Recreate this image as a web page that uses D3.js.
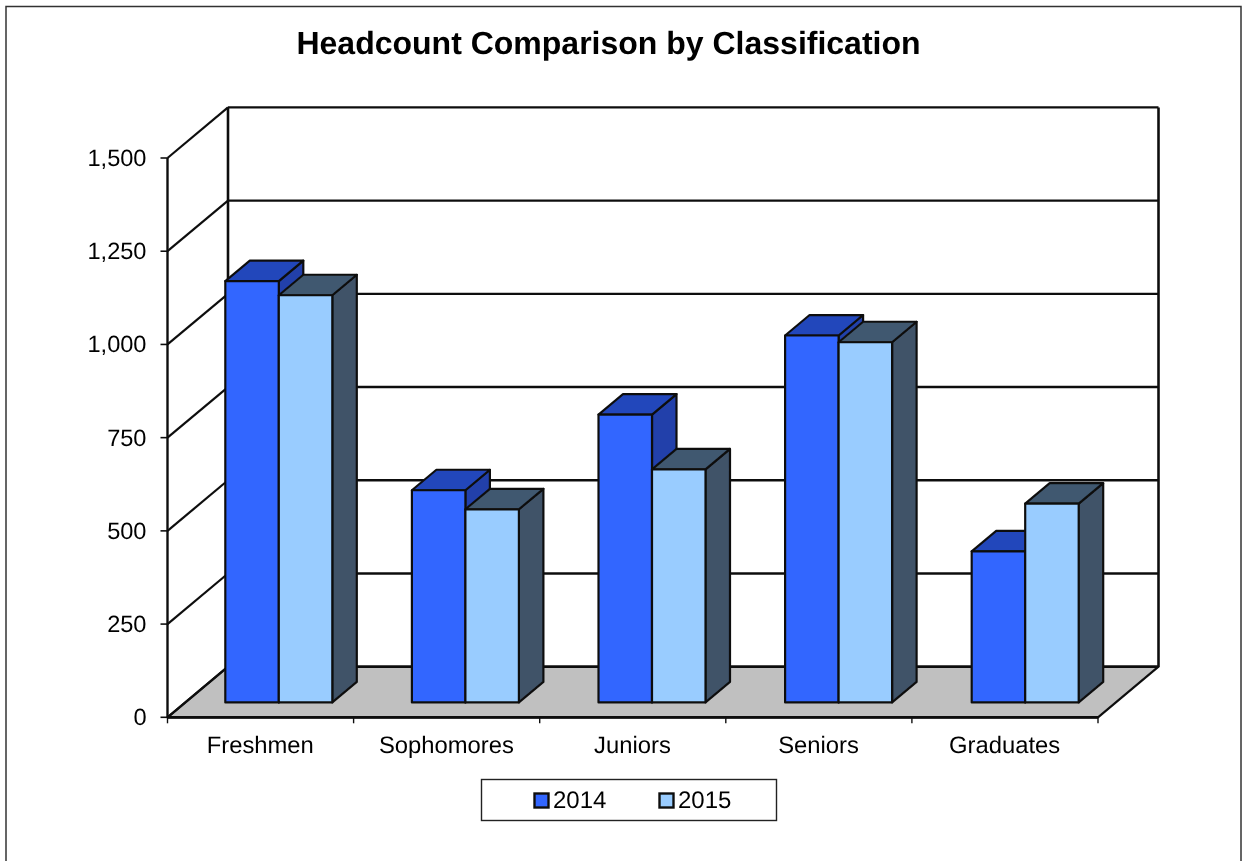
<!DOCTYPE html>
<html><head><meta charset="utf-8">
<script src="https://cdn.jsdelivr.net/npm/d3@7/dist/d3.min.js"></script>
<style>html,body{margin:0;padding:0;background:#fff}svg{display:block}text{font-family:"Liberation Sans",Arial,sans-serif;fill:#000;text-rendering:geometricPrecision}</style>
</head><body><div id="c"></div>
<script>
const categories = ["Freshmen","Sophomores","Juniors","Seniors","Graduates"];
const values2014 = [1130,569,772,984,405];
const values2015 = [1092,518,625,966,533];
const seriesNames = ["2014","2015"];
const yTicks = [0,250,500,750,1000,1250,1500];
const titleText = "Headcount Comparison by Classification";

const W=1243,H=861;
const root=d3.select("#c").append("svg").attr("width",W).attr("height",H);
root.append("defs").append("filter").attr("id","soft")
  .attr("filterUnits","userSpaceOnUse").attr("x",0).attr("y",0).attr("width",W).attr("height",H)
  .append("feGaussianBlur").attr("stdDeviation",0.45);
const svg=root.append("g").attr("filter","url(#soft)");
svg.append("rect").attr("width",W).attr("height",H).attr("fill","#fff");
const ink="#111";
// frame
svg.append("rect").attr("x",6).attr("y",6.5).attr("width",1235).attr("height",H+20).attr("fill","#fff").attr("stroke","#333").attr("stroke-width",1.5);
svg.append("text").attr("x",608.5).attr("y",54).attr("text-anchor","middle").attr("font-size",32).attr("font-weight","bold").text(titleText);

const y=d3.scaleLinear().domain([0,1500]).range([717.3,158]);
const frontL=167.5,frontR=1098,depthX=60.5,depthY=-50.6;
const x=d3.scaleLinear().domain([0,categories.length]).range([frontL,frontR]);
const P=(px,py,d)=>[px+d*depthX,py+d*depthY];
const poly=(pts,fill,sw)=>svg.append("polygon").attr("points",pts.map(p=>p.join(",")).join(" ")).attr("fill",fill).attr("stroke",ink).attr("stroke-width",sw).attr("stroke-linejoin","round");
const line=(a,b,sw)=>svg.append("line").attr("x1",a[0]).attr("y1",a[1]).attr("x2",b[0]).attr("y2",b[1]).attr("stroke",ink).attr("stroke-width",sw);

// floor
poly([P(frontL,y(0),0),P(frontR,y(0),0),P(frontR,y(0),1),P(frontL,y(0),1)],"#c0c0c0",2.2);
// walls and gridlines
yTicks.forEach(t=>{
  line(P(frontL,y(t),1),P(frontR,y(t),1),2.4);
  line(P(frontL,y(t),0),P(frontL,y(t),1),2.2);
});
line(P(frontL,y(0),0),P(frontL,y(1500),0),2.4);
line(P(frontL,y(0),1),P(frontL,y(1500),1),2.6);
line(P(frontR,y(0),1),P(frontR,y(1500),1),2.6);
line(P(frontL,y(0),0),P(frontR,y(0),0),2.8);

// axes ticks + labels
yTicks.forEach(t=>{
  line([frontL-7,y(t)],[frontL,y(t)],1.6);
  svg.append("text").attr("x",146.5).attr("y",y(t)+8).attr("text-anchor","end").attr("font-size",23.6).text(d3.format(",")(t));
});
d3.range(categories.length+1).forEach(i=>line([x(i),y(0)],[x(i),y(0)+6],1.4));
categories.forEach((c,i)=>svg.append("text").attr("x",x(i+0.5)-0.3).attr("y",753).attr("text-anchor","middle").attr("font-size",23.8).text(c));

// bars
const gapD=0.294,barD=0.405;
const groupX=d3.scaleLinear().domain([0,categories.length]).range([185.3,185.3+5*186.6]);
const barX=d3.scaleBand().domain(seriesNames).range([40,147]);
const colours={ "2014":{front:"#3366ff",top:"#2347bb",side:"#2040aa"}, "2015":{front:"#99ccff",top:"#3f5870",side:"#3f5268"} };
const baseY=P(0,y(0),gapD)[1];
const seriesVals={"2014":values2014,"2015":values2015};
categories.forEach((c,i)=>{
  seriesNames.forEach(s=>{
    const v=seriesVals[s][i];
    const x0=groupX(i)+barX(s), x1=x0+barX.bandwidth();
    const t=baseY-(y(0)-y(v)), col=colours[s];
    const dx=barD*depthX, dy=barD*depthY;
    poly([[x1,baseY],[x1+dx,baseY+dy],[x1+dx,t+dy],[x1,t]],col.side,2.2);
    poly([[x0,t],[x1,t],[x1+dx,t+dy],[x0+dx,t+dy]],col.top,2.2);
    poly([[x0,t],[x1,t],[x1,baseY],[x0,baseY]],col.front,2.2);
  });
});

// legend
svg.append("rect").attr("x",481.5).attr("y",779.5).attr("width",295).attr("height",41).attr("fill","#fff").attr("stroke","#222").attr("stroke-width",1.4);
const legendX=d3.scaleOrdinal().domain(seriesNames).range([534.5,659.5]);
seriesNames.forEach(s=>{
  svg.append("rect").attr("x",legendX(s)).attr("y",793.5).attr("width",14).attr("height",14).attr("fill",colours[s].front).attr("stroke",ink).attr("stroke-width",2.4);
  svg.append("text").attr("x",legendX(s)+18.5).attr("y",808).attr("font-size",24).text(s);
});
</script></body></html>
